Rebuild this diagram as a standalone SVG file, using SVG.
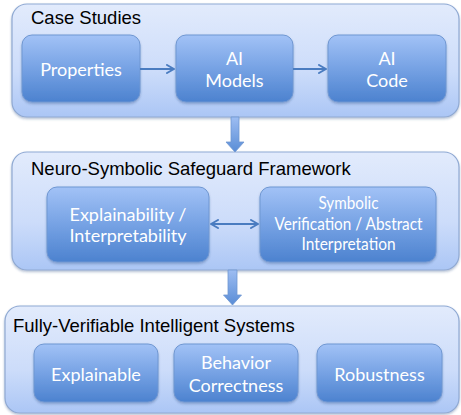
<svg xmlns="http://www.w3.org/2000/svg" width="461" height="415" viewBox="0 0 461 415">
  <defs>
    <linearGradient id="outerFill" x1="0" y1="0" x2="0" y2="1">
      <stop offset="0" stop-color="#e2ebfc"/>
      <stop offset="0.6" stop-color="#ccdcfa"/>
      <stop offset="1" stop-color="#abc6f5"/>
    </linearGradient>
    <linearGradient id="innerFill" x1="0" y1="0" x2="0" y2="1">
      <stop offset="0" stop-color="#a2c2f6"/>
      <stop offset="0.5" stop-color="#76a2e4"/>
      <stop offset="1" stop-color="#4c82cf"/>
    </linearGradient>
    <linearGradient id="blockArrowFill" x1="0" y1="0" x2="0" y2="1">
      <stop offset="0" stop-color="#9dbdf2"/>
      <stop offset="1" stop-color="#5a8dd6"/>
    </linearGradient>
    <filter id="shadow" x="-10%" y="-10%" width="120%" height="130%">
      <feDropShadow dx="0" dy="1.5" stdDeviation="1.2" flood-color="#2a4a80" flood-opacity="0.35"/>
    </filter>
    <marker id="arrowHead" viewBox="0 0 10 10" refX="8" refY="5" markerWidth="5" markerHeight="5" orient="auto-start-reverse">
      <path d="M1,1 L8,5 L1,9" fill="none" stroke="#4a7cc0" stroke-width="2" stroke-linecap="round" stroke-linejoin="round"/>
    </marker>
  </defs>
  <style>
    .outer { fill: url(#outerFill); stroke: #8fa9d3; stroke-width: 1.2; filter: url(#shadow); }
    .inner { fill: url(#innerFill); stroke: #6f97d2; stroke-width: 1; filter: url(#shadow); }
    .title { font-family: "Liberation Sans", Arial, sans-serif; font-size: 18.5px; fill: #000; }
    .label { font-family: Lato, "Open Sans", sans-serif; font-size: 18px; fill: #fff; text-anchor: middle; }
    .small { font-size: 17px; }
    .link { stroke: #4a7cc0; stroke-width: 2; fill: none; }
    .block { fill: url(#blockArrowFill); stroke: #6f97d2; stroke-width: 0.8; }
  </style>

  <!-- Case studies -->
  <g id="case-studies">
    <rect class="outer" x="12" y="4" width="447" height="113" rx="15"/>
    <text class="title" x="31" y="23.5">Case Studies</text>
  </g>
  <g id="properties">
    <rect class="inner" x="22" y="35" width="118" height="67" rx="10"/>
    <text class="label" x="81" y="76">Properties</text>
  </g>
  <g id="ai-models">
    <rect class="inner" x="176" y="35" width="117" height="67" rx="10"/>
    <text class="label" x="234.5" y="65">AI</text>
    <text class="label" x="234.5" y="87">Models</text>
  </g>
  <g id="ai-code">
    <rect class="inner" x="328" y="35" width="118" height="67" rx="10"/>
    <text class="label" x="387" y="65">AI</text>
    <text class="label" x="387" y="87">Code</text>
  </g>

  <!-- Safeguard framework -->
  <g id="framework">
    <rect class="outer" x="12" y="152" width="447" height="118" rx="15"/>
    <text class="title" x="31" y="175">Neuro-Symbolic Safeguard Framework</text>
  </g>
  <g id="explainability">
    <rect class="inner" x="47" y="187" width="162" height="75" rx="10"/>
    <text class="label" x="128" y="221">Explainability /</text>
    <text class="label" x="128" y="242">Interpretability</text>
  </g>
  <g id="symbolic-verification">
    <rect class="inner" x="260" y="187" width="176" height="75" rx="10"/>
    <text class="label small" x="348.5" y="209" textLength="60" lengthAdjust="spacingAndGlyphs">Symbolic</text>
    <text class="label small" x="348.5" y="229.5" textLength="148" lengthAdjust="spacingAndGlyphs">Verification / Abstract</text>
    <text class="label small" x="348.5" y="250" textLength="94" lengthAdjust="spacingAndGlyphs">Interpretation</text>
  </g>

  <!-- Intelligent systems -->
  <g id="intelligent-systems">
    <rect class="outer" x="5" y="306" width="454" height="107" rx="15"/>
    <text class="title" x="13" y="332">Fully-Verifiable Intelligent Systems</text>
  </g>
  <g id="explainable">
    <rect class="inner" x="34" y="344" width="124" height="58" rx="10"/>
    <text class="label" x="96" y="380.5">Explainable</text>
  </g>
  <g id="behavior-correctness">
    <rect class="inner" x="174" y="344" width="124" height="58" rx="10"/>
    <text class="label" x="236" y="369">Behavior</text>
    <text class="label" x="236" y="391.5">Correctness</text>
  </g>
  <g id="robustness">
    <rect class="inner" x="317" y="344" width="125" height="58" rx="10"/>
    <text class="label" x="379.5" y="380.5">Robustness</text>
  </g>

  <!-- Connectors -->
  <g id="connectors">
    <line class="link" x1="140" y1="69" x2="174" y2="69" marker-end="url(#arrowHead)"/>
    <line class="link" x1="293" y1="69" x2="326" y2="69" marker-end="url(#arrowHead)"/>
    <line class="link" x1="211" y1="224" x2="258" y2="224" marker-start="url(#arrowHead)" marker-end="url(#arrowHead)"/>
    <path class="block" d="M231,117 H239 V142 H244 L235,152 L226,142 H231 Z"/>
    <path class="block" d="M228,270 H237 V295 H241.5 L232.5,305 L223.5,295 H228 Z"/>
  </g>
</svg>
